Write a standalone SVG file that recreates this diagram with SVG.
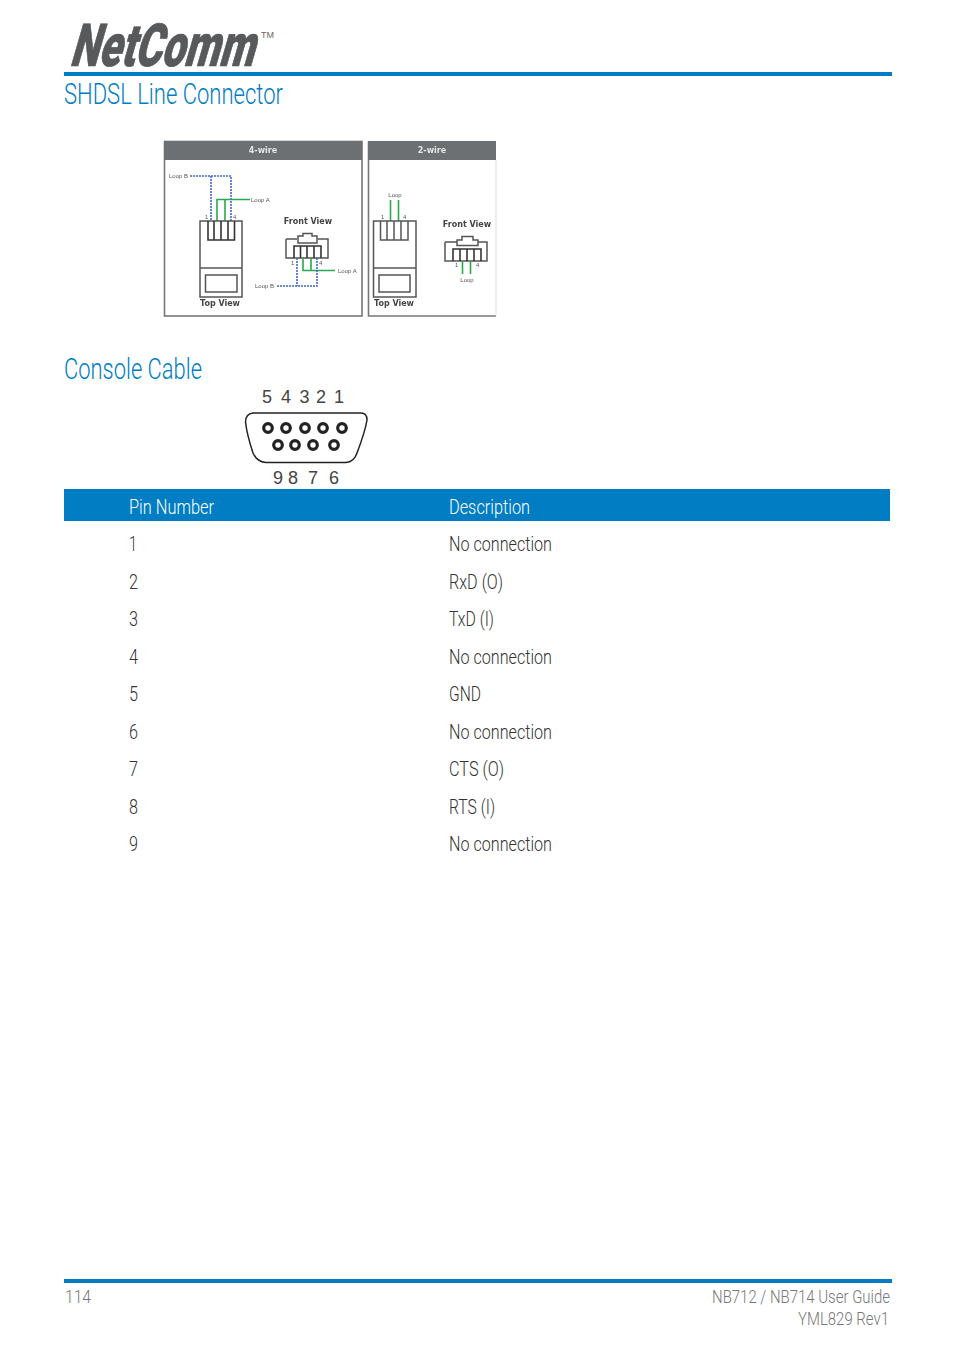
<svg xmlns="http://www.w3.org/2000/svg" width="954" height="1354" viewBox="0 0 954 1354">
<defs><filter id="soft" x="-5%" y="-5%" width="110%" height="110%"><feGaussianBlur stdDeviation="0.5"/></filter></defs>
<style>
.t{font-family:"Roboto","Liberation Sans",sans-serif;font-size:20px;fill:#333;font-weight:300}
.h{font-family:"Roboto","Liberation Sans",sans-serif;font-size:29px;fill:#007dc3;font-weight:300}
.w{fill:#fff}
.f{font-family:"Roboto","Liberation Sans",sans-serif;font-size:18px;fill:#777;font-weight:300}
.s{font-family:"Liberation Sans","DejaVu Sans",sans-serif;font-size:6px;fill:#555}
.b{font-family:"DejaVu Sans",sans-serif;font-size:8px;font-weight:bold;fill:#444}
.hd{font-family:"DejaVu Sans",sans-serif;font-size:8px;font-weight:bold;fill:#e4e4e4;text-anchor:middle}
.d{font-family:"Liberation Sans",sans-serif;font-size:18px;fill:#444;text-anchor:middle}
.k{fill:none;stroke:#333;stroke-width:1.6}
.k2{fill:none;stroke:#555;stroke-width:1.5}
.g{fill:none;stroke:#2aa84f;stroke-width:1.6}
.u{fill:none;stroke:#3f68c8;stroke-width:1.6;stroke-dasharray:2 1}
.o{fill:#fff;stroke:#222;stroke-width:3.2}
</style>

<g id="logo">
<text x="0" y="0" transform="translate(69 66) skewX(-16) scale(1 1.45)" font-family="Roboto" font-weight="900" font-size="41" fill="#58595b" stroke="#58595b" stroke-width="0.5" textLength="184" lengthAdjust="spacingAndGlyphs">NetComm</text>
<text x="261" y="38" font-family="Liberation Sans" font-size="9" fill="#666">TM</text>
</g>
<rect id="top-rule" x="64" y="72" width="828" height="4" fill="#007dc3"/>
<text id="title-shdsl" class="h" x="64" y="104" textLength="219" lengthAdjust="spacingAndGlyphs">SHDSL Line Connector</text>

<g id="panel-4-wire" filter="url(#soft)">
<rect x="164.500" y="141.500" width="197.500" height="174.500" fill="#fff" stroke="#777" stroke-width="1.600"/>
<rect x="164" y="141" width="198" height="19" fill="#6c7073"/>
<text class="hd" x="263" y="153">4-wire</text>
<text class="s" x="169" y="178">Loop B</text>
<text class="s" x="251" y="201.500">Loop A</text>
<text class="s" x="205" y="219">1</text>
<text class="s" x="233" y="219">4</text>
<path class="u" d="M190 176H231V221M211 176V221"/>
<path class="g" d="M250 199.500H217V221M225 199.500V221"/>
<path class="k2" d="M200 221H242V297H200ZM200 268H242M205.500 275H237V292H205.500Z"/>
<path class="k" d="M208 221V240H234.500V221M214 221V240M221 221V240M228 221V240"/>
<text class="b" x="220" y="305.500" text-anchor="middle">Top View</text>
<text class="b" x="308" y="224" text-anchor="middle">Front View</text>
<path class="k2" d="M286 239H297M318 239H328V258H286V239"/>
<path class="k2" d="M298 243V236H303V233.500H312V236H317V243Z"/>
<path class="k" d="M294 258V246H321V258M300.500 246V258M307 246V258M314 246V258"/>
<text class="s" x="291" y="265">1</text>
<text class="s" x="319" y="265">4</text>
<path class="g" d="M303 258V270.500H335M311 258V270.500"/>
<path class="u" d="M297 258V286M317 258V286H277"/>
<text class="s" x="255" y="288">Loop B</text>
<text class="s" x="338" y="273">Loop A</text>
</g>

<g id="panel-2-wire" filter="url(#soft)">
<path d="M496 316H368.500V141.500" fill="#fff" stroke="#777" stroke-width="1.600"/>
<path d="M496 160V316" stroke="#ddd" fill="none"/>
<rect x="368" y="141" width="128" height="19" fill="#6c7073"/>
<text class="hd" x="432" y="153">2-wire</text>
<text class="s" x="395" y="197" text-anchor="middle">Loop</text>
<path class="g" d="M390.500 200V221M398.500 200V221"/>
<text class="s" x="381" y="219">1</text>
<text class="s" x="403" y="219">4</text>
<path class="k2" d="M373.500 221H416V297H373.500ZM373.500 268H416M379 275H410V292H379Z"/>
<path class="k2" d="M380.500 221V240H408V221M387 221V240M394 221V240M401 221V240"/>
<text class="b" x="394" y="305.500" text-anchor="middle">Top View</text>
<text class="b" x="467" y="227" text-anchor="middle">Front View</text>
<path class="k2" d="M445 242H457M478 242H487V261H445V242"/>
<path class="k2" d="M457 245.500V240H462V236.500H473V240H478V245.500Z"/>
<path class="k" d="M453 261V249H481V261M460 249V261M467 249V261M474 249V261"/>
<text class="s" x="455" y="267">1</text>
<text class="s" x="476" y="267">4</text>
<path class="g" d="M462.500 261V274M470.500 261V274"/>
<text class="s" x="467" y="282" text-anchor="middle">Loop</text>
</g>

<text id="title-console" class="h" x="64" y="379" textLength="138" lengthAdjust="spacingAndGlyphs">Console Cable</text>

<g id="db9">
<text class="d" x="267" y="403">5</text>
<text class="d" x="286" y="403">4</text>
<text class="d" x="304.500" y="403">3</text>
<text class="d" x="321" y="403">2</text>
<text class="d" x="339" y="403">1</text>
<path d="M253 413H361Q367 413 367 420Q365 432 357 453Q354 462 346 462.500H266Q257 462 253 453Q247 435 245.500 422Q245.500 414 253 413Z" fill="none" stroke="#222" stroke-width="1.500"/>
<circle class="o" cx="268" cy="428" r="4.300"/><circle class="o" cx="286" cy="428" r="4.300"/><circle class="o" cx="305" cy="428" r="4.300"/><circle class="o" cx="323" cy="428" r="4.300"/><circle class="o" cx="342" cy="428" r="4.300"/>
<circle class="o" cx="278" cy="445" r="4.300"/><circle class="o" cx="295" cy="445" r="4.300"/><circle class="o" cx="313" cy="445" r="4.300"/><circle class="o" cx="334" cy="445" r="4.300"/>
<text class="d" x="278" y="484">9</text>
<text class="d" x="293" y="484">8</text>
<text class="d" x="313" y="484">7</text>
<text class="d" x="334" y="484">6</text>
</g>

<g id="table">
<rect x="64" y="489" width="826" height="32" fill="#007dc3"/>
<text class="t w" x="129" y="514" textLength="85" lengthAdjust="spacingAndGlyphs">Pin Number</text>
<text class="t w" x="449" y="514" textLength="81" lengthAdjust="spacingAndGlyphs">Description</text>
<text class="t" x="129" y="551" textLength="8" lengthAdjust="spacingAndGlyphs">1</text><text class="t" x="449" y="551" textLength="103" lengthAdjust="spacingAndGlyphs">No connection</text>
<text class="t" x="129" y="589" textLength="9" lengthAdjust="spacingAndGlyphs">2</text><text class="t" x="449" y="589" textLength="54" lengthAdjust="spacingAndGlyphs">RxD (O)</text>
<text class="t" x="129" y="626" textLength="9" lengthAdjust="spacingAndGlyphs">3</text><text class="t" x="449" y="626" textLength="45" lengthAdjust="spacingAndGlyphs">TxD (I)</text>
<text class="t" x="129" y="664" textLength="9" lengthAdjust="spacingAndGlyphs">4</text><text class="t" x="449" y="664" textLength="103" lengthAdjust="spacingAndGlyphs">No connection</text>
<text class="t" x="129" y="701" textLength="9" lengthAdjust="spacingAndGlyphs">5</text><text class="t" x="449" y="701" textLength="32" lengthAdjust="spacingAndGlyphs">GND</text>
<text class="t" x="129" y="739" textLength="9" lengthAdjust="spacingAndGlyphs">6</text><text class="t" x="449" y="739" textLength="103" lengthAdjust="spacingAndGlyphs">No connection</text>
<text class="t" x="129" y="776" textLength="9" lengthAdjust="spacingAndGlyphs">7</text><text class="t" x="449" y="776" textLength="55" lengthAdjust="spacingAndGlyphs">CTS (O)</text>
<text class="t" x="129" y="814" textLength="9" lengthAdjust="spacingAndGlyphs">8</text><text class="t" x="449" y="814" textLength="46" lengthAdjust="spacingAndGlyphs">RTS (I)</text>
<text class="t" x="129" y="851" textLength="9" lengthAdjust="spacingAndGlyphs">9</text><text class="t" x="449" y="851" textLength="103" lengthAdjust="spacingAndGlyphs">No connection</text>
</g>

<g id="footer">
<rect x="64" y="1279" width="828" height="4" fill="#007dc3"/>
<text class="f" x="65" y="1303" textLength="26" lengthAdjust="spacingAndGlyphs">114</text>
<text class="f" x="712" y="1303" textLength="178" lengthAdjust="spacingAndGlyphs">NB712 / NB714 User Guide</text>
<text class="f" x="798" y="1325" textLength="91" lengthAdjust="spacingAndGlyphs">YML829 Rev1</text>
</g>
</svg>
